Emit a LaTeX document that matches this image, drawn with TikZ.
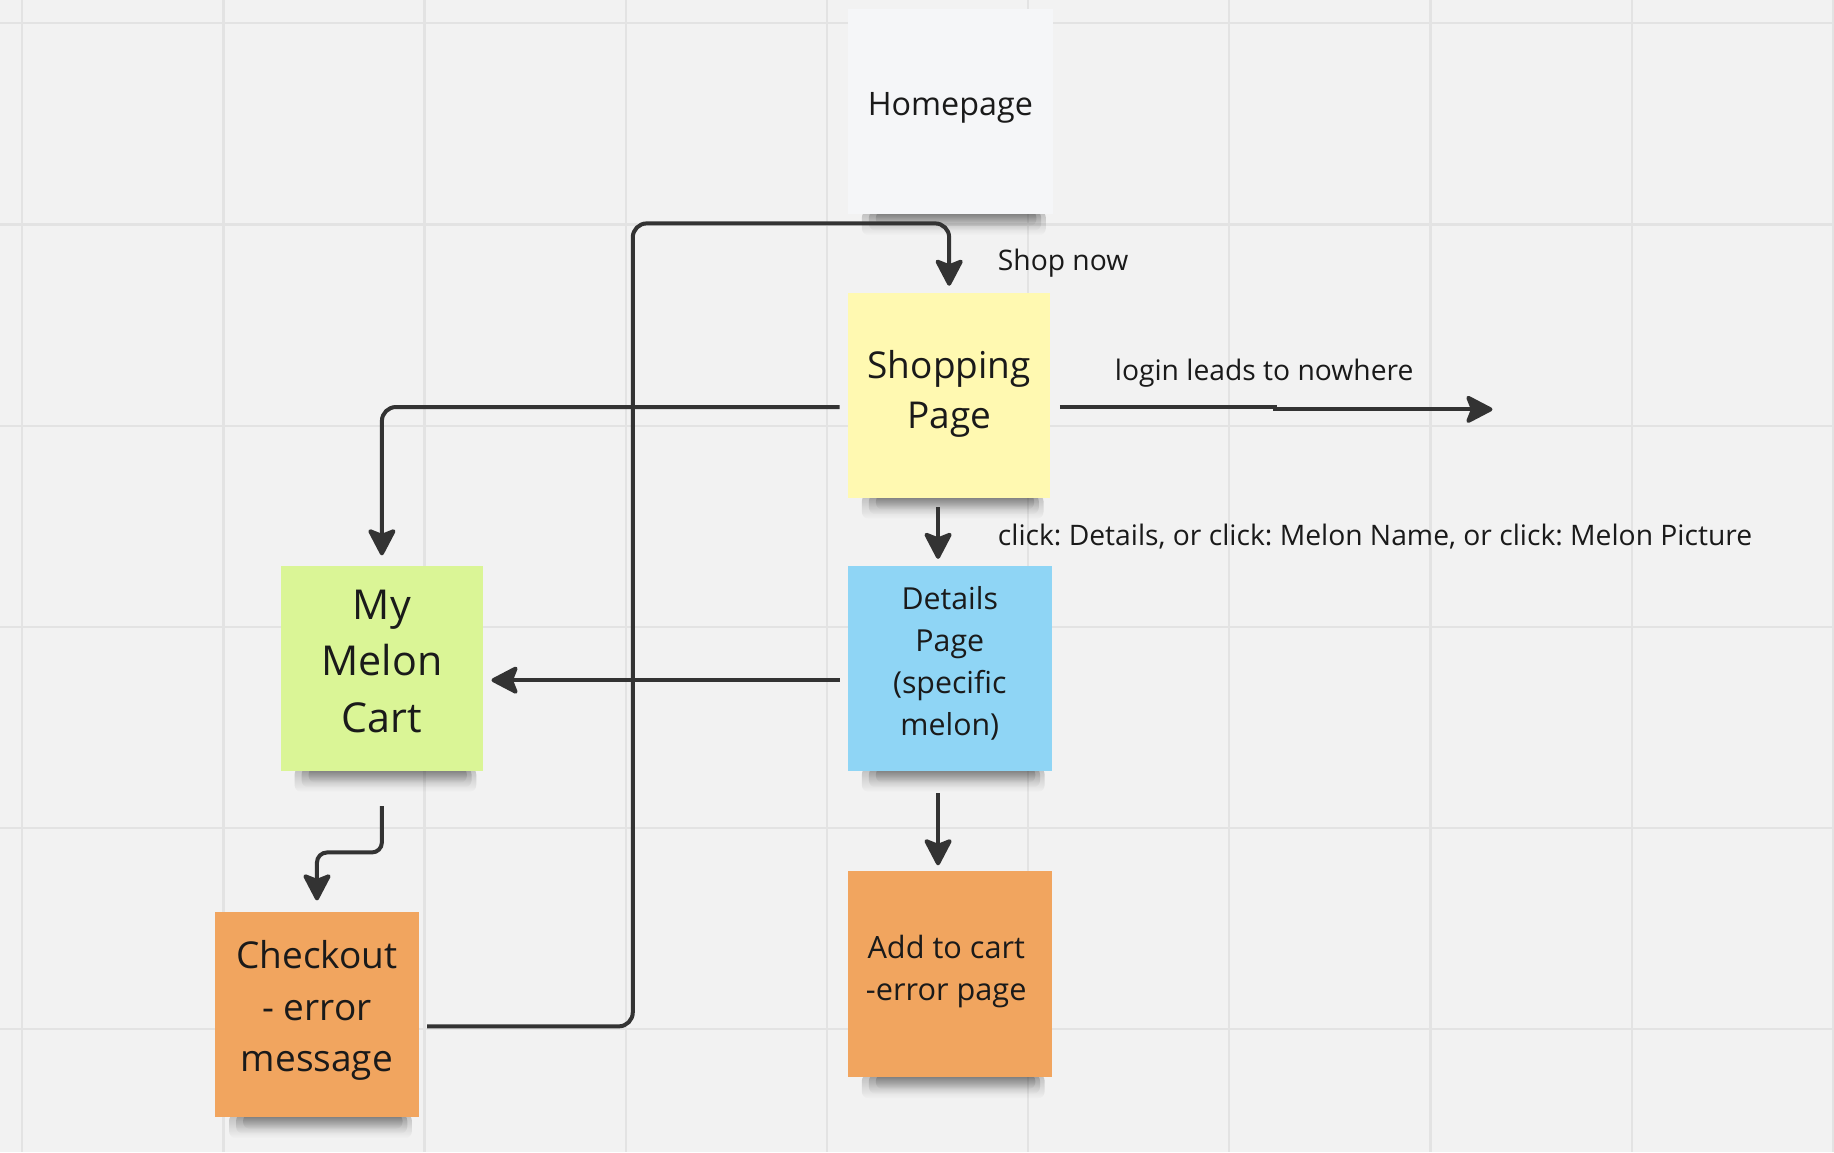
\documentclass[tikz,border=0pt]{standalone}
\usepackage{fontspec}
\setmainfont{Open Sans}
\usetikzlibrary{arrows.meta,fadings,calc}
\pgfdeclarelayer{backlayer}
\pgfsetlayers{backlayer,main}
\frenchspacing
\newcommand\pxu{1.1696pt}
\definecolor{bgc}{HTML}{F2F2F2}
\definecolor{gridc}{HTML}{E3E3E3}
\definecolor{ink}{HTML}{1A1A1A}
\definecolor{linec}{HTML}{333333}
\definecolor{cwhite}{HTML}{F5F6F8}
\definecolor{cyellow}{HTML}{FFF9B1}
\definecolor{cblue}{HTML}{8FD5F5}
\definecolor{cgreen}{HTML}{DAF596}
\definecolor{corange}{HTML}{F1A55F}
\tikzset{
  note/.style={rectangle, inner sep=0pt, minimum width=174*\pxu, minimum height=175*\pxu},
  notetext/.style={inner sep=0pt, align=center, text=ink},
  lbl/.style={inner sep=0pt, text=ink, font=\fontsize{28.25pt}{34pt}\selectfont},
  conn/.style={draw=linec, line width=4pt, -{Stealth[length=30pt, width=31pt, inset=6pt, round]}},
  shadowband/.style={fill=black, opacity=0.22, path fading=south, rounded corners=7pt},
}
\begin{document}
\begin{tikzpicture}[x=1.1696pt,y=-1.1696pt]
\begin{pgfonlayer}{backlayer}
\fill[bgc] (0,0) rectangle (1568,985);
\useasboundingbox (0,0) rectangle (1568,985);
\foreach \gx in {19,191,363,535,707,879,1051,1223,1395,1567} \draw[gridc, line width=2.2pt] (\gx,0) -- (\gx,985);
\foreach \gy in {20,192,364,536,708,880} \draw[gridc, line width=2.2pt] (0,\gy) -- (1568,\gy);
\end{pgfonlayer}

% sticky notes
\node[note, fill=cwhite, minimum width=175*\pxu] (home) at (812.5,95.5) {};
\node[note, fill=cyellow, minimum width=173*\pxu] (shop) at (811.5,338) {};
\node[note, fill=cblue] (det) at (812,571.5) {};
\node[note, fill=cgreen, minimum width=173*\pxu] (cart) at (326.5,571.5) {};
\node[note, fill=corange] (chk) at (271,867.5) {};
\node[note, fill=corange, minimum height=176*\pxu] (add) at (812,833) {};

% note texts
\node[notetext, font=\fontsize{32.3pt}{40pt}\selectfont] (hometxt) at ($(home)+(0,-3)$) {Homepage};
\node[notetext, font=\fontsize{37pt}{50.3pt}\selectfont] (shoptxt) at ($(shop)+(0,-1)$) {Shopping\\Page};
\node[notetext, font=\fontsize{30.3pt}{42.1pt}\selectfont] (dettxt) at ($(det)+(0,-4.5)$) {Details\\Page\\(specific\\melon)};
\node[notetext, font=\fontsize{41.2pt}{56.4pt}\selectfont] (carttxt) at ($(cart)+(0,-6)$) {My\\Melon\\Cart};
\node[notetext, font=\fontsize{37pt}{51.5pt}\selectfont] (chktxt) at ($(chk)+(0,-3.5)$) {Checkout\\- error\\message};
\node[notetext, font=\fontsize{30.7pt}{42.1pt}\selectfont] (addtxt) at ($(add)+(-3,-2.5)$) {Add to cart\\-error page};

% shadows
\begin{pgfonlayer}{backlayer}
\foreach \n in {home,shop,det,cart,chk,add}{
  \fill[shadowband] ($(\n.south west)+(12,-3)$) rectangle ($(\n.south east)+(-6,18)$);
  \fill[shadowband] ($(\n.south west)+(18,-3)$) rectangle ($(\n.south east)+(-10,14)$);
  \fill[shadowband] ($(\n.south west)+(24,-3)$) rectangle ($(\n.south east)+(-14,10)$);
}
\end{pgfonlayer}

% labels
\node[lbl, anchor=base west] (lshop) at (853,231) {Shop now};
\node[lbl, anchor=base west] (llogin) at (953,325) {login leads to nowhere};
\node[lbl, anchor=base west] (lclick) at (853,466) {click: Details, or click: Melon Name, or click: Melon Picture};

\coordinate (nowhere) at (1276,350);

% connectors
\draw[conn, rounded corners=14pt] ($(chk.east)+(7,10)$) -| (541,191) -| ($(shop.north)+(0,-6)$);
\draw[conn, rounded corners=14pt] ($(shop.west)+(-7,10)$) -| ($(cart.north)+(0,-9)$);
\draw[conn] ($(shop.east)+(8,10)$) -- (1090,348) -- (1090,350) -- (nowhere);
\draw[conn] ($(shop.south)+(-9.5,8)$) -- ($(det.north)+(-10,-6)$);
\draw[conn] ($(det.west)+(-7,10)$) -- ($(cart.east)+(7,10)$);
\draw[conn] ($(det.south)+(-10,19)$) -- ($(add.north)+(-10,-5)$);
\draw[conn, rounded corners=10pt] ($(cart.south)+(0,30)$) |- ($(chk.north)+(0,-51)$) -- ($(chk.north)+(0,-10)$);
\end{tikzpicture}
\end{document}
